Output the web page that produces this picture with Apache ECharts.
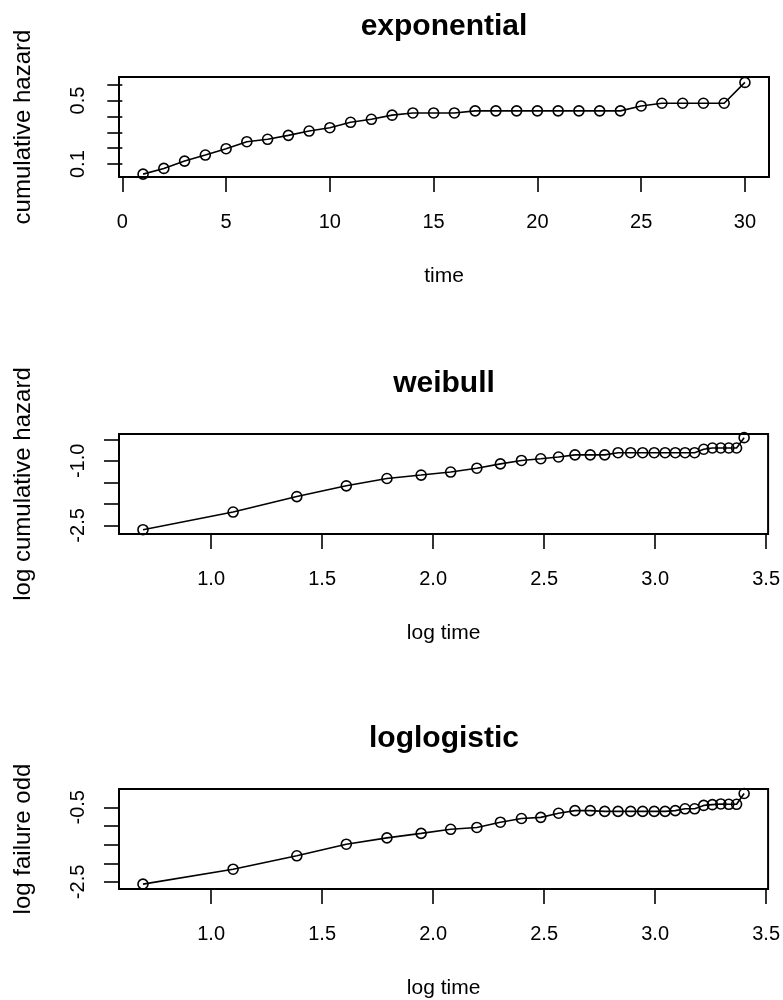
<!DOCTYPE html>
<html>
<head>
<meta charset="utf-8">
<script src="https://cdn.jsdelivr.net/npm/echarts@6/dist/echarts.min.js"></script>
<style>
  html, body { margin: 0; padding: 0; background: #fff; }
  #chart { width: 783px; height: 1000px; }
</style>
</head>
<body>
<div id="chart"></div>
<script>
// ---- data ----
const titles = ['exponential', 'weibull', 'loglogistic'];
const xNames = ['time', 'log time', 'log time'];
const yNames = ['cumulative hazard', 'log cumulative hazard', 'log failure odd'];

const expTime = [1, 2, 3, 4, 5, 6, 7, 8, 9, 10, 11, 12, 13, 14, 15, 16, 17, 18, 19, 20, 21, 22, 23, 24, 25, 26, 27, 28, 29, 30];
const expHazard = [0.037, 0.073, 0.119, 0.157, 0.197, 0.241, 0.256, 0.281, 0.308, 0.329, 0.363, 0.382, 0.408, 0.422, 0.422, 0.422, 0.435, 0.435, 0.435, 0.435, 0.435, 0.435, 0.435, 0.435, 0.466, 0.483, 0.483, 0.483, 0.483, 0.614];

const logTime = [0.693, 1.099, 1.386, 1.609, 1.792, 1.946, 2.079, 2.197, 2.303, 2.398, 2.485, 2.565, 2.639, 2.708, 2.773, 2.833, 2.890, 2.944, 2.996, 3.045, 3.091, 3.135, 3.178, 3.219, 3.258, 3.296, 3.332, 3.367, 3.401];
const weibullLogHazard = [-2.60, -2.19, -1.83, -1.58, -1.41, -1.33, -1.26, -1.17, -1.07, -0.99, -0.95, -0.91, -0.86, -0.86, -0.86, -0.81, -0.81, -0.81, -0.81, -0.81, -0.81, -0.81, -0.81, -0.73, -0.70, -0.70, -0.70, -0.70, -0.46];
const loglogFailureOdd = [-2.56, -2.16, -1.80, -1.49, -1.32, -1.20, -1.09, -1.04, -0.90, -0.80, -0.77, -0.66, -0.59, -0.59, -0.61, -0.61, -0.61, -0.61, -0.61, -0.61, -0.59, -0.54, -0.54, -0.45, -0.43, -0.41, -0.42, -0.42, -0.13];

const xTicks1 = [0, 5, 10, 15, 20, 25, 30];
const xTicksLog = [1.0, 1.5, 2.0, 2.5, 3.0, 3.5];
const yTicks1 = [0.1, 0.2, 0.3, 0.4, 0.5, 0.6];
const yLabels1 = [0.1, 0.5];
const yTicks2 = [-2.5, -2.0, -1.5, -1.0, -0.5];
const yLabels2 = [-2.5, -1.0];
const yTicks3 = [-2.5, -2.0, -1.5, -1.0, -0.5];
const yLabels3 = [-2.5, -0.5];

// ---- layout ----
const FONT = "'Liberation Sans', Arial, sans-serif";
const gridLeft = 119, gridRight = 14, gridH = 100;
const gridTops = [77, 434, 789];
const xRanges = [[-0.16, 31.16], [0.585, 3.509], [0.585, 3.509]];
const yRanges = [[0.019, 0.648], [-2.70, -0.375], [-2.69, -0.01]];
const xTickSets = [xTicks1, xTicksLog, xTicksLog];
const yTickSets = [yTicks1, yTicks2, yTicks3];
const yLabelSets = [yLabels1, yLabels2, yLabels3];
const xFormat = [v => String(Math.round(v)), v => v.toFixed(1), v => v.toFixed(1)];
const seriesData = [
  expTime.map((t, i) => [t, expHazard[i]]),
  logTime.map((t, i) => [t, weibullLogHazard[i]]),
  logTime.map((t, i) => [t, loglogFailureOdd[i]])
];

const plotCenter = gridLeft + (783 - gridLeft - gridRight) / 2;

const option = {
  animation: false,
  backgroundColor: '#fff',
  title: titles.map((t, i) => ({
    text: t,
    left: plotCenter,
    textAlign: 'center',
    top: gridTops[i] - 65,
    padding: 0,
    textStyle: { fontFamily: FONT, fontSize: 30, fontWeight: 'bold', color: '#000' }
  })),
  grid: gridTops.map(top => ({
    left: gridLeft, right: gridRight, top: top, height: gridH,
    show: true, borderColor: '#000', borderWidth: 2, backgroundColor: 'transparent'
  })),
  xAxis: gridTops.map((_, i) => ({
    type: 'value', gridIndex: i,
    min: xRanges[i][0], max: xRanges[i][1],
    name: xNames[i], nameLocation: 'middle', nameGap: 89,
    nameTextStyle: { fontFamily: FONT, fontSize: 21, color: '#000' },
    axisLine: { show: false },
    axisTick: { show: true, inside: false, length: 15, customValues: xTickSets[i], lineStyle: { color: '#000', width: 1.6 } },
    axisLabel: { show: true, margin: 35, customValues: xTickSets[i], formatter: xFormat[i], fontFamily: FONT, fontSize: 20, color: '#000', showMinLabel: true, showMaxLabel: true },
    splitLine: { show: false }
  })),
  yAxis: gridTops.map((_, i) => ({
    type: 'value', gridIndex: i,
    min: yRanges[i][0], max: yRanges[i][1],
    name: yNames[i], nameLocation: 'middle', nameGap: 84,
    nameTextStyle: { fontFamily: FONT, fontSize: 24, color: '#000' },
    axisLine: { show: false },
    axisTick: { show: true, inside: false, length: 15, customValues: yTickSets[i], lineStyle: { color: '#000', width: 1.6 } },
    axisLabel: { show: true, rotate: 90, margin: 31, customValues: yLabelSets[i], formatter: v => v.toFixed(1), fontFamily: FONT, fontSize: 20, color: '#000', showMinLabel: true, showMaxLabel: true },
    splitLine: { show: false }
  })),
  series: seriesData.map((d, i) => ({
    type: 'line', xAxisIndex: i, yAxisIndex: i,
    data: d,
    symbol: 'circle', symbolSize: 10,
    itemStyle: { color: 'transparent', borderColor: '#000', borderWidth: 1.6 },
    lineStyle: { color: '#000', width: 1.6 },
    emphasis: { disabled: true },
    clip: false
  }))
};

const chart = echarts.init(document.getElementById('chart'), null, { renderer: 'canvas' });
chart.setOption(option);
</script>
</body>
</html>
